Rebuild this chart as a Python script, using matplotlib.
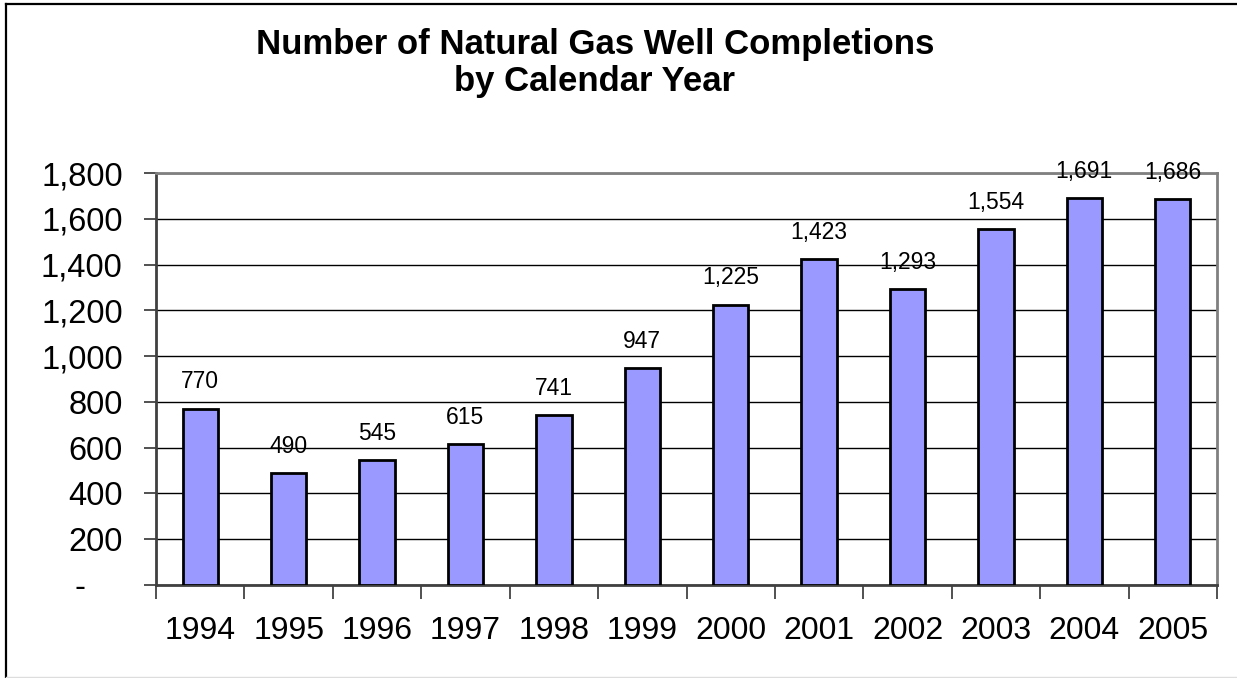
import numpy as np
import matplotlib.pyplot as plt
from matplotlib.ticker import FuncFormatter, FixedLocator
from matplotlib.lines import Line2D

plt.rcParams['font.family'] = ['Liberation Sans', 'DejaVu Sans']

years = ["1994", "1995", "1996", "1997", "1998", "1999",
         "2000", "2001", "2002", "2003", "2004", "2005"]
completions = [770, 490, 545, 615, 741, 947, 1225, 1423, 1293, 1554, 1691, 1686]
yticks = [0, 200, 400, 600, 800, 1000, 1200, 1400, 1600, 1800]

fig = plt.figure(figsize=(12.37, 6.78), dpi=100)
ax = fig.add_axes([156/1237, 1 - 585/678, (1217-156)/1237, (585-173)/678])

x = np.arange(len(years))
ax.bar(x, completions, width=0.40, color="#9999FF", edgecolor="black",
       linewidth=2, zorder=3)

for xi, val in zip(x, completions):
    ax.annotate(f"{val:,}", xy=(xi, val), xytext=(0, 11), textcoords="offset points",
                ha="center", va="bottom", fontsize=16.5, zorder=4)

ax.set_xlim(-0.5, len(years) - 0.5)
ax.set_ylim(0, 1800)

ax.yaxis.set_major_locator(FixedLocator(yticks))
ax.yaxis.set_major_formatter(FuncFormatter(lambda v, p: "-    " if v == 0 else f"{int(v):,}"))
ax.grid(axis="y", color="black", linewidth=1, zorder=1)

# categories centred between ticks at boundaries
ax.set_xticks(np.arange(len(years) + 1) - 0.5)
ax.set_xticklabels([])
ax.set_xticks(x, minor=True)
ax.set_xticklabels(years, minor=True)
ax.tick_params(axis="x", which="major", direction="out", length=10, width=1.2, color="#333333")
ax.tick_params(axis="x", which="minor", length=0, pad=22, labelsize=23)
ax.tick_params(axis="y", direction="out", length=9, width=1.2, color="#333333",
               pad=15, labelsize=23.5)

for s in ["top", "right"]:
    ax.spines[s].set_color("#808080")
    ax.spines[s].set_linewidth(2)
ax.spines["left"].set_color("#404040")
ax.spines["left"].set_linewidth(2)
ax.spines["bottom"].set_color("#404040")
ax.spines["bottom"].set_linewidth(2)

fig.text(595/1237, 1 - 63/678, "Number of Natural Gas Well Completions\nby Calendar Year",
         ha="center", va="center", fontsize=25, fontweight="bold", linespacing=1.12)

# outer chart frame
fig.add_artist(Line2D([6/1237, 6/1237], [0, 1 - 4/678], transform=fig.transFigure,
                      color="black", linewidth=1.6))
fig.add_artist(Line2D([6/1237, 1], [1 - 4/678, 1 - 4/678], transform=fig.transFigure,
                      color="black", linewidth=1.6))
fig.add_artist(Line2D([6/1237, 1], [1/678, 1/678], transform=fig.transFigure,
                      color="#dddddd", linewidth=1))

fig.savefig("out.png", dpi=100)
